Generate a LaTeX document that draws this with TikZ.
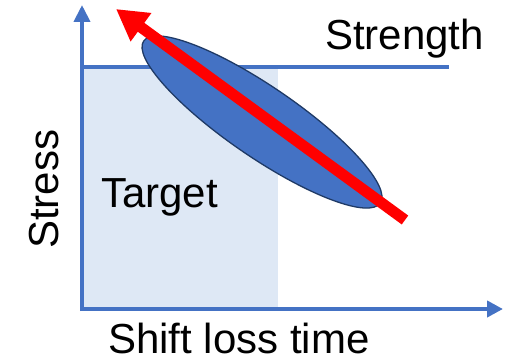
\documentclass[tikz,border=0pt]{standalone}
\usepackage{fontspec}
\setmainfont{Liberation Sans}
\usetikzlibrary{arrows.meta}
\definecolor{axisblue}{HTML}{4472C4}
\definecolor{zonefill}{HTML}{DEE8F5}
\definecolor{ellipseedge}{HTML}{1F3A66}
\definecolor{trendred}{HTML}{FF0000}
\begin{document}
\begin{tikzpicture}[x=1pt,y=1pt,
  axisline/.style={draw=axisblue,line width=4pt},
  label/.style={font=\fontsize{42}{50}\selectfont,inner sep=0pt,text=black,text depth=0pt}]
\useasboundingbox (0,0) rectangle (506,-361);
% target zone below the strength limit
\fill[zonefill] (84,-69) rectangle (278,-307);
% strength limit
\coordinate (s0) at (82,-67.5);
\coordinate (s1) at (449,-67.5);
\draw[axisline] (s0) -- (s1);
% axes
\coordinate (origin) at (82,-309);
\coordinate (ytop) at (82,-5);
\coordinate (xend) at (503,-309);
\draw[axisline,-{Triangle[length=17pt,width=16pt]}] (82,-311) -- (ytop);
\draw[axisline,-{Triangle[length=16pt,width=16pt]}] (80,-309) -- (xend);
% spread of stress
\draw[fill=axisblue,draw=ellipseedge,line width=1.3pt,rotate around={-34.4:(262,-122)}]
  (262,-122) ellipse [x radius=143.4, y radius=35.2];
% trend arrow
\coordinate (tail) at (405,-220);
\coordinate (tip) at (116,-9);
\draw[trendred,line width=11pt,-{Triangle[length=31pt,width=33pt]}] (tail) -- (tip);
% labels
\node[label,anchor=base west] (strength) at (325,-50) {Strength};
\node[label,anchor=base west] (target) at (101,-207) {Target};
\node[label,anchor=base west] (xlab) at (108,-353.5) {Shift loss time};
\node[label,anchor=base west,rotate=90] (ylab) at (58,-249) {Stress};
\end{tikzpicture}
\end{document}
